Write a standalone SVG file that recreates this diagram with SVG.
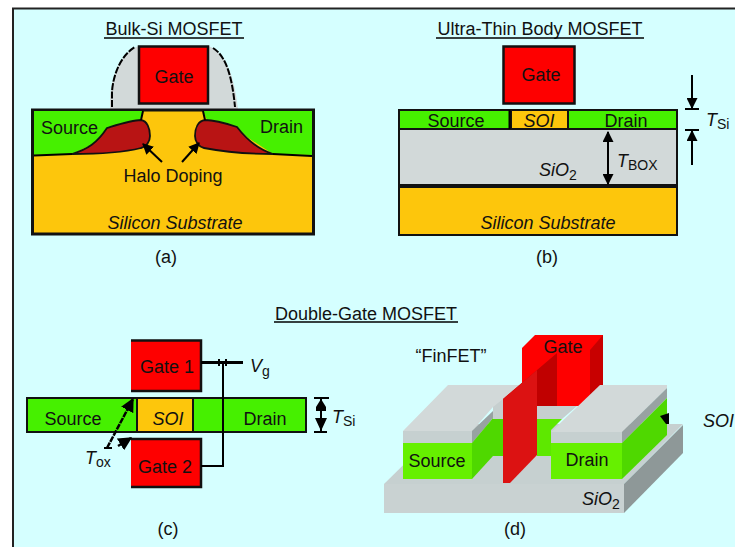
<svg xmlns="http://www.w3.org/2000/svg" width="735" height="547" viewBox="0 0 735 547">
<style>
text{font-family:"Liberation Sans",Arial,sans-serif;font-size:18px;fill:#111}
.i{font-style:italic}
.sub{font-size:14px;font-style:normal}
.m{text-anchor:middle}
.k{stroke:#000;fill:none}
.red{fill:#fe0000;stroke:#111;stroke-width:2.5}
.grn{fill:#46f000;stroke:#111;stroke-width:2}
.yel{fill:#fdc60c;stroke:#111;stroke-width:2}
.gry{fill:#d2d9d9;stroke:#111;stroke-width:2}
.hd{fill:#000;stroke:none}
</style>
<defs>
<marker id="a" viewBox="0 0 10 10" refX="9" refY="5" markerWidth="5.500" markerHeight="5.500" orient="auto-start-reverse"><path d="M0 0L10 5L0 10Z" fill="#000"/></marker>
</defs>
<rect width="735" height="547" fill="#fff"/>
<path d="M735 547H13V8.500H735Z" fill="#d5ffff"/>
<path d="M13 547V8.500H735" fill="none" stroke="#222" stroke-width="2"/>

<g id="panel-a">
<text class="m" x="174" y="35">Bulk-Si MOSFET</text>
<path class="k" stroke-width="1.300" d="M104 38H244"/>
<path d="M110 109V96C112 76 120 52 139 46H208C226 52 234 76 238 109Z" fill="#d2d9d9"/>
<path class="k" stroke-width="2" stroke-dasharray="7 1.500" d="M112 107V92C113 76 120 56 135 47M213 48C226 56 232 76 235 107"/>
<rect x="32.500" y="110" width="281" height="124" fill="#fdc60c" stroke="#111" stroke-width="3"/>
<path d="M34 111H143L140 120L107 128L97 142L72 154L34 155Z" fill="#46f000"/>
<path d="M312 111H203L207 120L237 127L247 137L273 154L312 155Z" fill="#46f000"/>
<path d="M72 154C88 149 97 143 107 128C120 124 132 120 141 120C147 121 150 128 150 136C150 142 146 147 141 148C125 152 100 154 72 154Z" fill="#b81414" stroke="#111" stroke-width="1.800"/>
<path d="M273 154C260 150 247 140 237 127C225 123 214 120 205 120C198 121 195 128 195 136C195 142 199 147 204 148C225 152 250 154 273 154Z" fill="#b81414" stroke="#111" stroke-width="1.800"/>
<path class="k" stroke-width="2" d="M34 155.500L72 154M273 154L312 156M143 111L141 120M203 111L205 120"/>
<path class="k" stroke-width="2" marker-end="url(#a)" d="M162 162L143 144"/>
<path class="k" stroke-width="2" marker-end="url(#a)" d="M182 162L199 143"/>
<text x="41" y="134">Source</text>
<text x="260" y="133">Drain</text>
<text class="m" x="173" y="182">Halo Doping</text>
<text class="m i" x="175" y="229">Silicon Substrate</text>
<text class="m" x="166" y="263">(a)</text>
<g id="a-gate"><rect class="red" x="139" y="46.500" width="69" height="57"/><text class="m" x="174" y="83">Gate</text></g>
</g>

<g id="panel-b">
<text class="m" x="540" y="35">Ultra-Thin Body MOSFET</text>
<path class="k" stroke-width="1.300" d="M436 38H644"/>
<g id="b-gate"><rect class="red" x="503.500" y="46.500" width="71" height="57"/><text class="m" x="541" y="81">Gate</text></g>
<rect class="gry" x="399" y="129" width="278" height="56"/>
<rect class="yel" x="399" y="187" width="278" height="48"/>
<rect class="grn" x="399" y="110" width="278" height="19"/>
<rect class="yel" x="511" y="110" width="57" height="19"/>
<path class="k" stroke-width="2" d="M509.500 110V129"/>
<text class="m" x="456" y="127">Source</text>
<text class="m i" x="539" y="127">SOI</text>
<text class="m" x="626" y="127">Drain</text>
<text class="i" x="539" y="176">SiO<tspan class="sub" dy="4">2</tspan></text>
<text class="m i" x="548" y="229">Silicon Substrate</text>
<text class="m" x="547" y="263">(b)</text>
<path class="k" stroke-width="2" marker-start="url(#a)" marker-end="url(#a)" d="M608 132V184"/>
<text class="i" x="617" y="167">T<tspan class="sub" dy="3">BOX</tspan></text>
<path class="k" stroke-width="2" marker-end="url(#a)" d="M692 75V108"/>
<path class="k" stroke-width="2" marker-end="url(#a)" d="M692 165V131"/>
<path class="k" stroke-width="2" d="M685 109H699M685 130H699"/>
<text class="i" x="706" y="126">T<tspan class="sub" dy="3">Si</tspan></text>
</g>

<g id="panel-c">
<text class="m" x="366" y="320">Double-Gate MOSFET</text>
<path class="k" stroke-width="1.300" d="M274 322H458"/>
<g id="c-gate1"><path class="red" d="M131 340.500H201V391H131"/><text class="m" x="167" y="373">Gate 1</text></g>
<g id="c-gate2"><path class="red" d="M131 439H201V487H131"/><text class="m" x="165" y="473">Gate 2</text></g>
<rect class="grn" x="27" y="398" width="279" height="34"/>
<rect class="yel" x="137" y="398" width="56" height="34"/>
<text class="m" x="73" y="425">Source</text>
<text class="m i" x="168" y="425">SOI</text>
<text class="m" x="265" y="425">Drain</text>
<path class="k" stroke-width="3" d="M201 362.500H243"/>
<path class="k" stroke-width="2" d="M219 359V366M226 359V366"/>
<path class="k" stroke-width="2" d="M223 362V466H201"/>
<text class="i" x="250" y="372">V<tspan class="sub" dy="4">g</tspan></text>
<path class="k" stroke-width="2.500" stroke-dasharray="6 1" marker-end="url(#a)" d="M107 448L133 399"/>
<path class="k" stroke-width="2" d="M104 448H112"/>
<path class="k" stroke-width="2.500" marker-end="url(#a)" d="M118 446L131 438"/>
<text class="i" x="85" y="464">T<tspan class="sub" dy="3">ox</tspan></text>
<path class="k" stroke-width="2" d="M314 398H329M314 432H327M321 398V432"/>
<path class="hd" d="M316 407L321 399L326 407L326 411L316 411ZM315 418L327 418L321 431Z"/>
<text class="i" x="332" y="423">T<tspan class="sub" dy="3">Si</tspan></text>
<text class="m" x="168" y="535">(c)</text>
</g>

<g id="panel-d">
<text class="m" x="451" y="362">“FinFET”</text>
<path d="M384 484L445 424H683L624 484Z" fill="#c6d0d0"/>
<path d="M384 484H624V513H384Z" fill="#c9d2d2"/>
<path d="M624 484L683 425V453L624 513Z" fill="#8e9898"/>
<g id="d-gate">
<path d="M522 348L535 335H603V385L580 406H522Z" fill="#fe0000"/>
<path d="M590 350L603 335V385L590 398Z" fill="#c80000"/>
<text class="m" x="563" y="353">Gate</text>
</g>
<path d="M537 406H577L562 419H537Z" fill="#c6cfcf"/>
<path d="M537 419H562L551 430V456H537Z" fill="#5ee800"/>
<path d="M493 401L503 399V419H493Z" fill="#c6cfcf"/>
<path d="M493 419H503V456H493Z" fill="#4fd800"/>
<g id="d-source">
<path d="M403 431L448 385H520L503 399L493 407L472 431Z" fill="#d2d9d9"/>
<path d="M472 431L493 411V418L472 443Z" fill="#98a2a2"/>
<rect x="403" y="431" width="69" height="12" fill="#c6d0d0"/>
<rect x="403" y="443" width="69" height="36" fill="#66f000"/>
<path d="M472 443L493 418V456L472 479Z" fill="#4fd800"/>
<text class="m" x="437" y="467">Source</text>
</g>
<path d="M503 399L557 353V406H537V399Z" fill="#c00000"/>
<path d="M503 399L537 370V455L510 483H503Z" fill="#dc1212"/>
<g id="d-drain">
<path d="M551 432L600 385H667V388L622 432Z" fill="#d2d9d9"/>
<path d="M622 432L667 388V398L622 443Z" fill="#98a2a2"/>
<rect x="551" y="432" width="71" height="11" fill="#c6d0d0"/>
<rect x="551" y="443" width="71" height="36" fill="#66f000"/>
<path d="M622 443L667 398V435L622 479Z" fill="#4fd800"/>
<text class="m" x="587" y="466">Drain</text>
</g>
<path class="hd" d="M660 416L669 413V424L666 424Z"/>
<text class="i" x="703" y="427">SOI</text>
<text class="i" x="582" y="505">SiO<tspan class="sub" dy="4">2</tspan></text>
<text class="m" x="515" y="535">(d)</text>
</g>
</svg>
